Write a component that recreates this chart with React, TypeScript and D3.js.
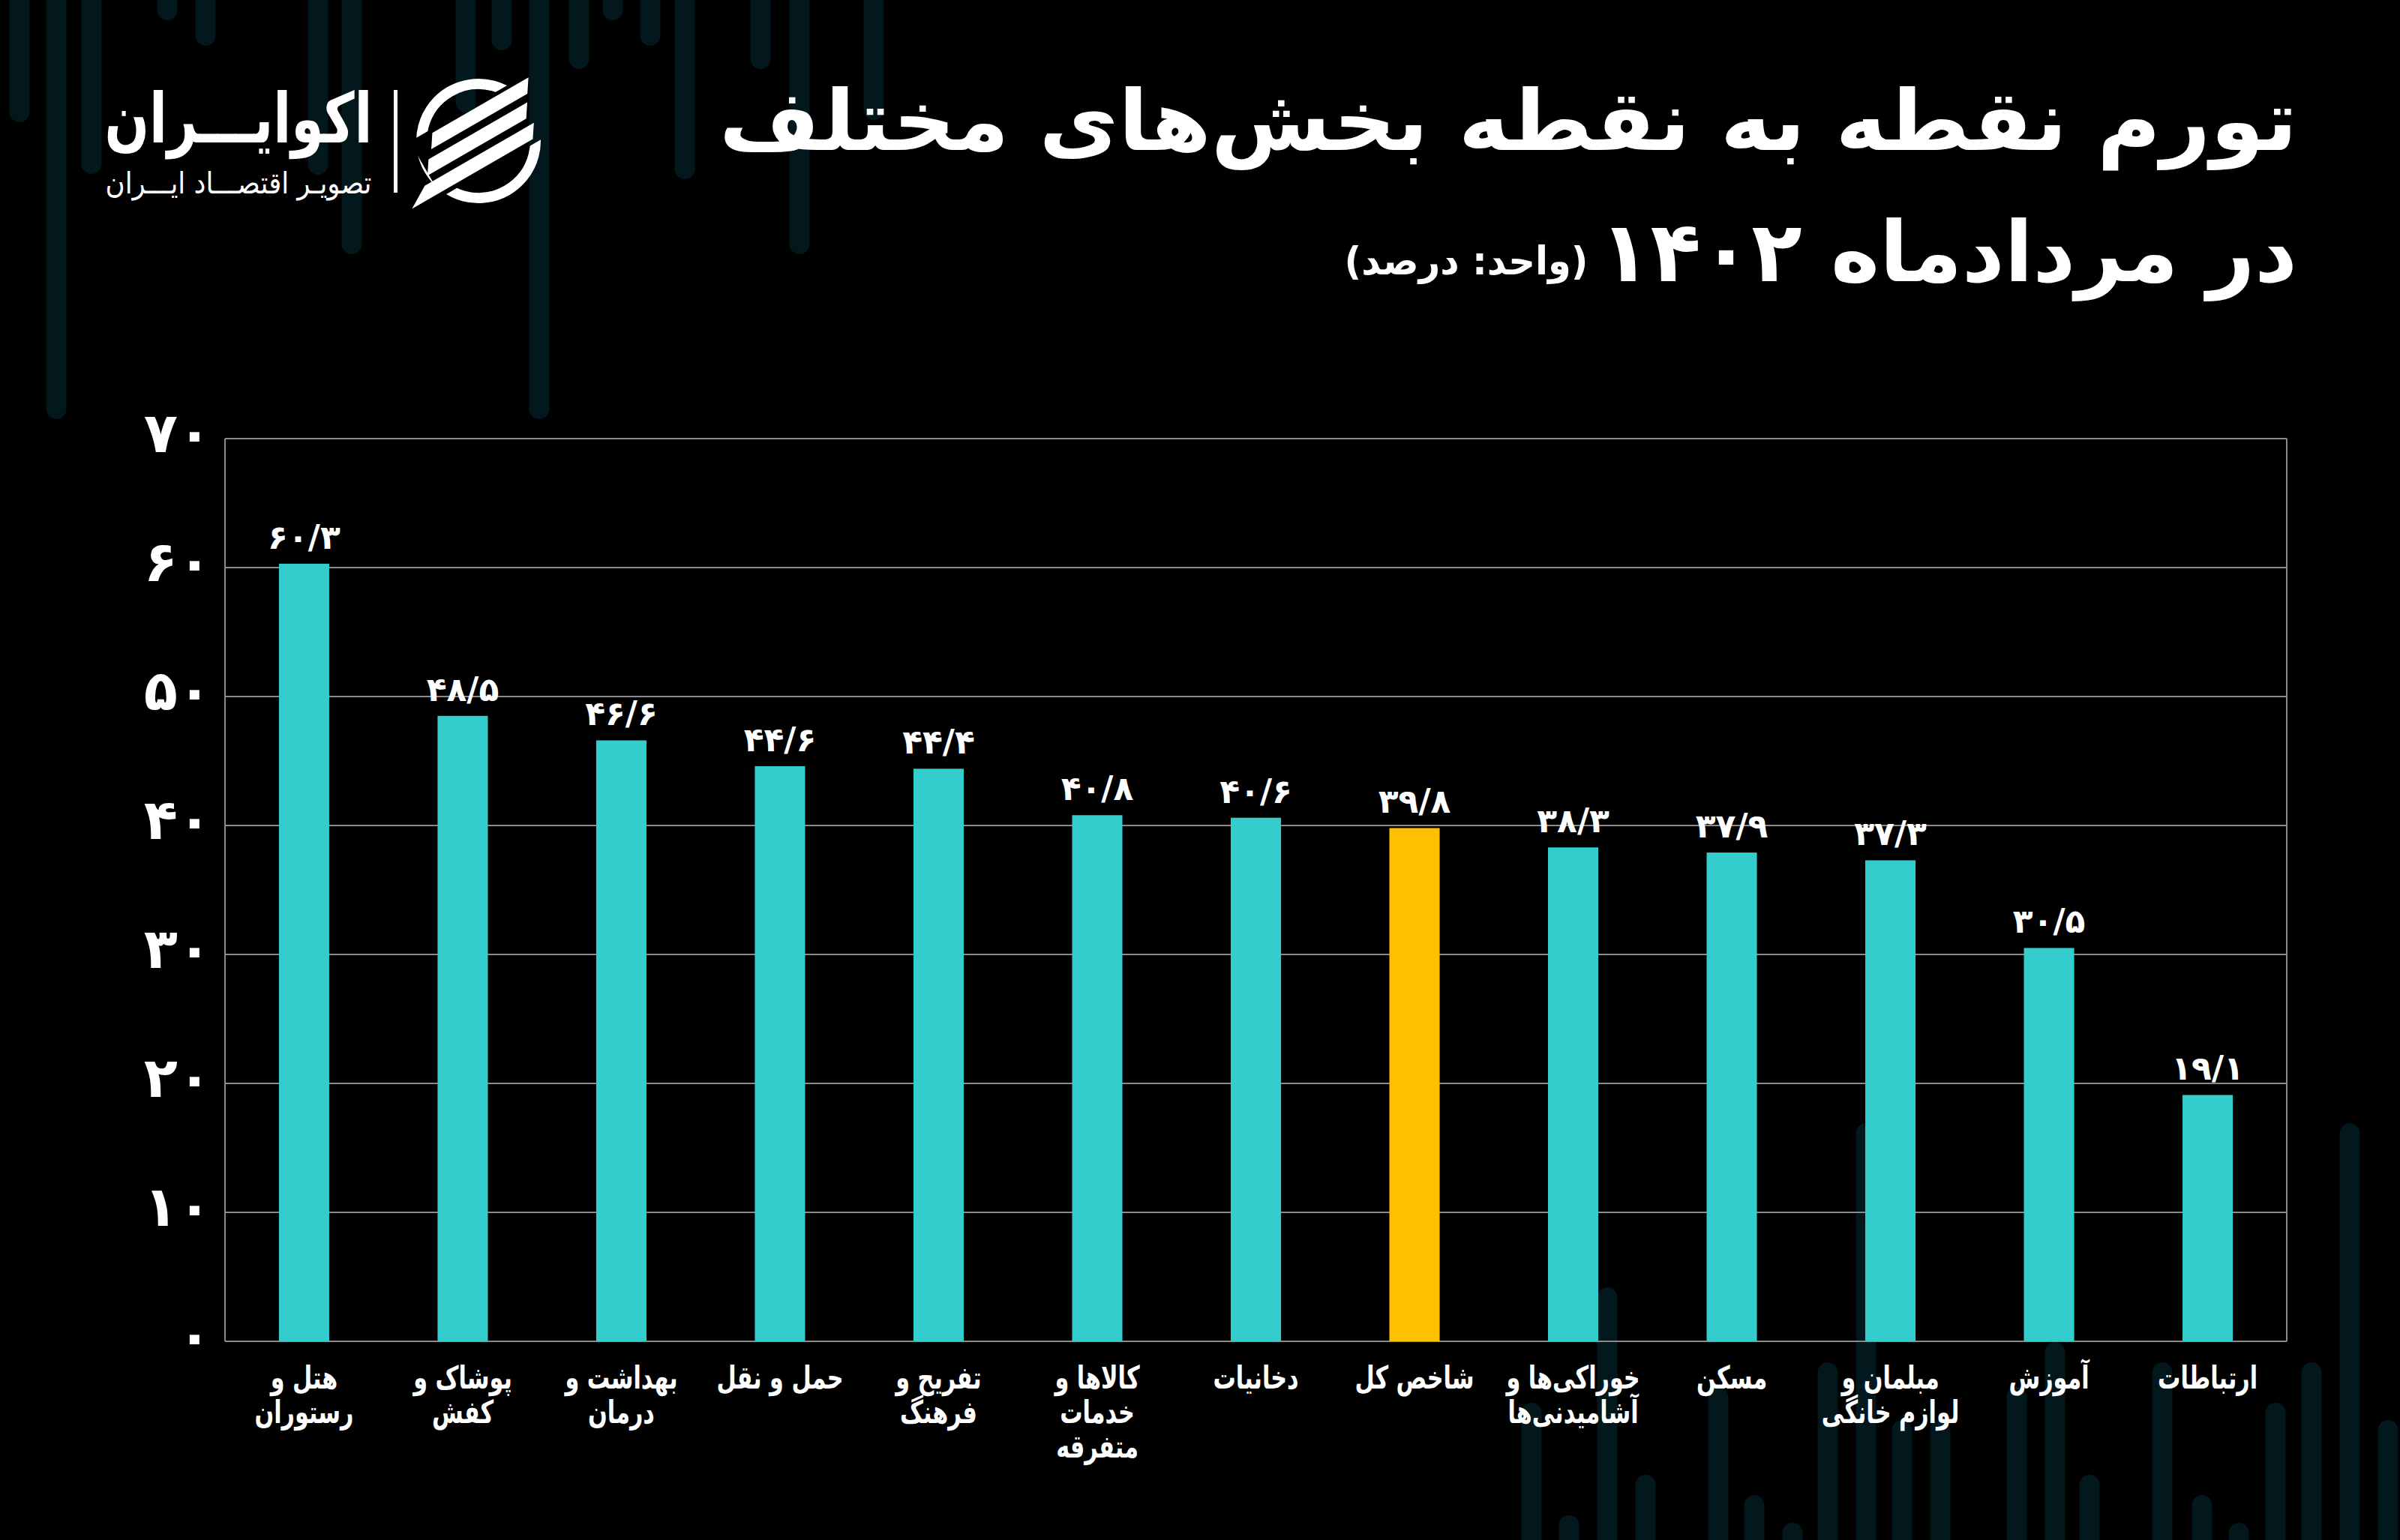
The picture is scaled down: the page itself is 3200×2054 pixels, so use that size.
import React from "react";
import * as d3 from "d3";

// ---- data ----
const categories: string[][] = [
  ["هتل و", "رستوران"],
  ["پوشاک و", "کفش"],
  ["بهداشت و", "درمان"],
  ["حمل و نقل"],
  ["تفریح و", "فرهنگ"],
  ["کالاها و", "خدمات", "متفرقه"],
  ["دخانیات"],
  ["شاخص کل"],
  ["خوراکی‌ها و", "آشامیدنی‌ها"],
  ["مسکن"],
  ["مبلمان و", "لوازم خانگی"],
  ["آموزش"],
  ["ارتباطات"],
];
const values: number[] = [60.3, 48.5, 46.6, 44.6, 44.4, 40.8, 40.6, 39.8, 38.3, 37.9, 37.3, 30.5, 19.1];
const highlightIndex = 7;
const yTicks: number[] = [0, 10, 20, 30, 40, 50, 60, 70];
const titleLine1 = "تورم نقطه به نقطه بخش‌های مختلف";
const titleLine2 = "در مردادماه ۱۴۰۲";
const unitText = "(واحد: درصد)";
const brandName = "اکوایـــران";
const brandTagline = "تصویـر اقتصـــاد ایـــران";

// decorative background bars: [centerX, endY] (top ones hang from top, bottom ones rise from bottom)
const decoTop: [number, number][] = [
  [26, 163], [75, 559], [122, 232], [223, 27], [274, 61], [424, 233], [469, 339],
  [621, 150], [669, 67], [719, 559], [772, 92], [817, 27], [867, 61], [913, 239],
  [1014, 92], [1066, 339], [1165, 160],
];
const decoBottom: [number, number][] = [
  [2042, 1871], [2092, 2021], [2143, 1717], [2194, 1967], [2291, 1850], [2339, 1994],
  [2390, 2031], [2437, 1817], [2488, 1498], [2536, 1894], [2587, 1894], [2689, 1850],
  [2740, 1790], [2786, 1967], [2883, 1817], [2936, 1994], [2985, 2031], [3034, 1871],
  [3082, 1817], [3133, 1498], [3184, 1894],
];

const W = 3200;
const H = 2054;
const FONT = "'DejaVu Sans', sans-serif";

const toFa = (s: string) =>
  s.replace(/\d/g, (d) => "۰۱۲۳۴۵۶۷۸۹"[+d]).replace(".", "/");

export default function App() {
  const left = 300, right = 3049, top = 585, bottom = 1789;
  const x = d3
    .scaleBand<number>()
    .domain(values.map((_, i) => i))
    .range([left, right])
    .paddingInner(0.683)
    .paddingOuter(0.34);
  const y = d3.scaleLinear().domain([0, 70]).range([bottom, top]);
  const teal = "#32CDCC";
  const yellow = "#FFC000";
  const grid = "#8a8a8a";
  const deco = "#03181c";
  const decoW = 27;

  const lc = { x: 638, y: 188 };

  return (
    <>
      <style>{`body{margin:0;background:#000}`}</style>
      <svg width={W} height={H} viewBox={`0 0 ${W} ${H}`} style={{ display: "block", background: "#000" }}>
        <rect x={0} y={0} width={W} height={H} fill="#000" />
        {/* decorative bars */}
        {decoTop.map(([cx, ey], i) => (
          <rect key={"dt" + i} x={cx - decoW / 2} y={-30} width={decoW} height={ey + 30} rx={decoW / 2} fill={deco} />
        ))}
        {decoBottom.map(([cx, sy], i) => (
          <rect key={"db" + i} x={cx - decoW / 2} y={sy} width={decoW} height={H - sy + 30} rx={decoW / 2} fill={deco} />
        ))}

        {/* title */}
        <text x={2011} y={200} fill="#fff" fontFamily={FONT} fontWeight="bold" fontSize={112}
          textAnchor="middle" direction="rtl" textLength={2104} lengthAdjust="spacingAndGlyphs">{titleLine1}</text>
        <text x={2598} y={375} fill="#fff" fontFamily={FONT} fontWeight="bold" fontSize={112}
          textAnchor="middle" direction="rtl" textLength={930} lengthAdjust="spacingAndGlyphs">{titleLine2}</text>
        <text x={1955} y={366} fill="#fff" fontFamily={FONT} fontWeight="bold" fontSize={52}
          textAnchor="middle" direction="rtl" textLength={325} lengthAdjust="spacingAndGlyphs">{unitText}</text>

        {/* logo */}
        <text x={318} y={190} fill="#fff" fontFamily={FONT} fontWeight="bold" fontSize={92}
          textAnchor="middle" direction="rtl" textLength={357} lengthAdjust="spacingAndGlyphs">{brandName}</text>
        <text x={318} y={258} fill="#fff" fontFamily={FONT} fontSize={40}
          textAnchor="middle" direction="rtl" textLength={355} lengthAdjust="spacingAndGlyphs">{brandTagline}</text>
        <rect x={525} y={120} width={5} height={137} fill="#fff" />
        <g transform={`translate(${lc.x},${lc.y}) rotate(-30)`}>
          <defs>
            <clipPath id="ringcut">
              <rect x={-200} y={-200} width={400} height={155} />
              <rect x={-200} y={40} width={400} height={160} />
              <rect x={-200} y={-200} width={120} height={400} />
            </clipPath>
          </defs>
          <circle r={76} fill="none" stroke="#fff" strokeWidth={14} clipPath="url(#ringcut)" />
          <polygon points="-48,-40 100,-40 88,-22 -60,-22" fill="#fff" />
          <polygon points="-70,-12 82,-12 70,6 -82,6" fill="#fff" />
          <polygon points="-92,16 76,16 64,34 -122,34" fill="#fff" />
        </g>

        {/* grid */}
        {yTicks.map((t) => (
          <line key={"g" + t} x1={left} x2={right} y1={y(t)} y2={y(t)} stroke={grid} strokeWidth={2} />
        ))}
        <line x1={left} x2={left} y1={top} y2={bottom} stroke={grid} strokeWidth={2} />
        <line x1={right} x2={right} y1={top} y2={bottom} stroke={grid} strokeWidth={2} />

        {/* y tick labels */}
        {yTicks.map((t) => (
          <text key={"yt" + t} x={282} y={y(t) + 18} fill="#fff" fontFamily={FONT} fontWeight="bold"
            fontSize={74} textAnchor="end">{toFa(String(t))}</text>
        ))}

        {/* bars */}
        {values.map((v, i) => (
          <rect key={"b" + i} x={x(i)} y={y(v)} width={x.bandwidth()} height={y(0) - y(v)}
            fill={i === highlightIndex ? yellow : teal} />
        ))}
        {/* value labels */}
        {values.map((v, i) => (
          <text key={"v" + i} x={(x(i) as number) + x.bandwidth() / 2} y={y(v) - 20} fill="#fff"
            fontFamily={FONT} fontWeight="bold" fontSize={44} textAnchor="middle">{toFa(v.toFixed(1))}</text>
        ))}
        {/* category labels (horizontally condensed like the original face) */}
        {categories.map((lines, i) => {
          const cx = (x(i) as number) + x.bandwidth() / 2;
          return (
            <g key={"c" + i} transform={`translate(${cx},0) scale(0.72,1)`}>
              <text x={0} y={1852} fill="#fff" fontFamily={FONT} fontWeight="bold" fontSize={42}
                textAnchor="middle" direction="rtl">
                {lines.map((ln, j) => (
                  <tspan key={j} x={0} y={1852 + j * 46}>{ln}</tspan>
                ))}
              </text>
            </g>
          );
        })}
      </svg>
    </>
  );
}
